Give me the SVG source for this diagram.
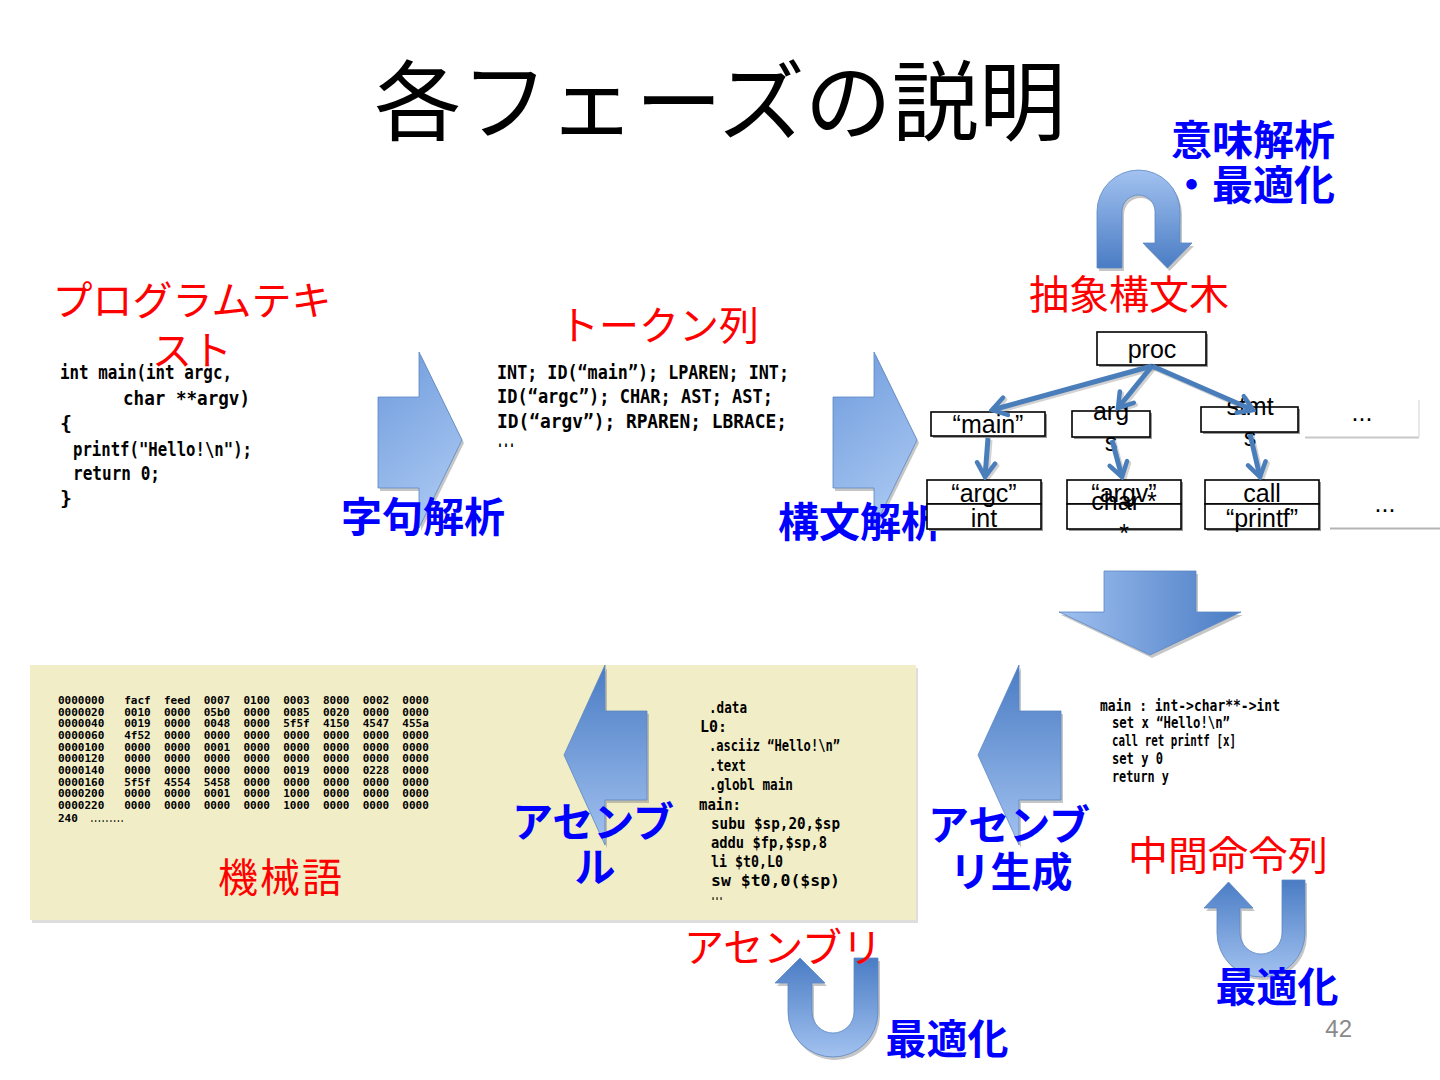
<svg xmlns="http://www.w3.org/2000/svg" width="1440" height="1080" viewBox="0 0 1440 1080">
<style>
.title{font-family:"Noto Sans CJK JP","Noto Sans",sans-serif;font-size:87px;fill:#000}
.red{font-family:"Noto Sans CJK JP","Noto Sans",sans-serif;font-size:40px;fill:#ff0000;text-anchor:middle}
.blue{font-family:"Noto Sans CJK JP","Noto Sans",sans-serif;font-size:41px;font-weight:bold;fill:#0000ff;text-anchor:middle}
.code{font-family:"DejaVu Sans Mono","Liberation Mono","Noto Sans CJK JP",monospace;font-weight:bold;fill:#000}
.c20{font-size:20px}
.c15{font-size:15px}
.c11{font-size:11px;white-space:pre}
.box{fill:#fff;stroke:#000;stroke-width:1.6}
.bsh{fill:#9a9a9a}
.node{font-family:"Liberation Sans",Arial,sans-serif;font-size:25px;fill:#000;text-anchor:middle}
.edge{fill:none;stroke:#4a7ebb;stroke-width:5;marker-end:url(#chev)}
.edgesh{fill:none;stroke:#7f7f7f;stroke-width:5;opacity:0.35;marker-end:url(#chevsh)}
.ash{fill:#808080;opacity:0.45}
</style>
<defs>
<linearGradient id="gDown" x1="0" y1="0" x2="0" y2="1">
<stop offset="0" stop-color="#4a7cc4"/>
<stop offset="1" stop-color="#a2c2f0"/>
</linearGradient>
<linearGradient id="gUp" x1="0" y1="0" x2="0" y2="1">
<stop offset="0" stop-color="#a2c2f0"/>
<stop offset="1" stop-color="#4a7cc4"/>
</linearGradient>
<linearGradient id="gH" x1="0" y1="0" x2="1" y2="0">
<stop offset="0" stop-color="#9fc0f0"/>
<stop offset="1" stop-color="#4a7cc4"/>
</linearGradient>
<linearGradient id="gR" x1="0" y1="0" x2="0.4" y2="1">
<stop offset="0" stop-color="#6e9bdc"/>
<stop offset="1" stop-color="#a6c5f1"/>
</linearGradient>
<marker id="chev" viewBox="0 0 20 24" refX="17" refY="12" markerWidth="20" markerHeight="24" markerUnits="userSpaceOnUse" orient="auto">
<path d="M3,3 L17,12 L3,21" fill="none" stroke="#4a7ebb" stroke-width="4.5" stroke-linecap="round"/>
</marker>
<marker id="chevsh" viewBox="0 0 20 24" refX="17" refY="12" markerWidth="20" markerHeight="24" markerUnits="userSpaceOnUse" orient="auto">
<path d="M3,3 L17,12 L3,21" fill="none" stroke="#7f7f7f" stroke-width="4.5" stroke-linecap="round"/>
</marker>
</defs>
<rect width="1440" height="1080" fill="#fff"/>

<g id="title">
<text class="title" x="720" y="134" text-anchor="middle">各フェーズの説明</text>
</g>

<g id="panel">
<rect x="32" y="668" width="886" height="255" fill="#c8c8c8" opacity="0.6"/>
<rect x="30" y="665" width="886" height="255" fill="#f1edc6"/>
</g>

<g id="arrow-lex">
<path class="ash" transform="translate(2,3)" d="M378,397 L419,397 L419,352 L462,440 L419,528 L419,488 L378,488 Z"/>
<path d="M378,397 L419,397 L419,352 L462,440 L419,528 L419,488 L378,488 Z" fill="url(#gR)" stroke="#5a86c4" stroke-width="0.8"/>
</g>
<g id="arrow-parse">
<path class="ash" transform="translate(2,3)" d="M833,397 L874,397 L874,352 L917,440 L874,528 L874,488 L833,488 Z"/>
<path d="M833,397 L874,397 L874,352 L917,440 L874,528 L874,488 L833,488 Z" fill="url(#gR)" stroke="#5a86c4" stroke-width="0.8"/>
</g>
<g id="arrow-down">
<path class="ash" transform="translate(2,3)" d="M1104,571 L1196,571 L1196,612 L1241,612 L1150,655 L1059,612 L1104,612 Z"/>
<path d="M1104,571 L1196,571 L1196,612 L1241,612 L1150,655 L1059,612 L1104,612 Z" fill="url(#gH)" stroke="#5a86c4" stroke-width="0.8"/>
</g>
<g id="arrow-asmgen">
<path class="ash" transform="translate(2,3)" d="M1061,711 L1019,711 L1019,665 L978,755 L1019,845 L1019,800 L1061,800 Z"/>
<path d="M1061,711 L1019,711 L1019,665 L978,755 L1019,845 L1019,800 L1061,800 Z" fill="url(#gDown)" stroke="#5a86c4" stroke-width="0.8"/>
</g>
<g id="arrow-asm">
<path class="ash" transform="translate(2,3)" d="M647,711 L605,711 L605,665 L564,755 L605,845 L605,800 L647,800 Z"/>
<path d="M647,711 L605,711 L605,665 L564,755 L605,845 L605,800 L647,800 Z" fill="url(#gDown)" stroke="#5a86c4" stroke-width="0.8"/>
</g>

<g id="uturn-semantic">
<path class="ash" transform="translate(2,3)" d="M1097,268 L1097,211.5 A41.5,41.5 0 0 1 1180,211.5 L1180,243 L1192,243 L1167.5,268 L1143,243 L1155,243 L1155,211.5 A16.5,16.5 0 0 0 1122,211.5 L1122,268 Z"/>
<path d="M1097,268 L1097,211.5 A41.5,41.5 0 0 1 1180,211.5 L1180,243 L1192,243 L1167.5,268 L1143,243 L1155,243 L1155,211.5 A16.5,16.5 0 0 0 1122,211.5 L1122,268 Z" fill="url(#gUp)" stroke="#5a86c4" stroke-width="0.8"/>
</g>
<g id="uturn-asm">
<path class="ash" transform="translate(2,3)" d="M878,958 L878,1012 A45,45 0 0 1 788,1012 L788,983 L775,983 L800,958 L825,983 L812,983 L812,1012 A21,21 0 0 0 854,1012 L854,958 Z"/>
<path d="M878,958 L878,1012 A45,45 0 0 1 788,1012 L788,983 L775,983 L800,958 L825,983 L812,983 L812,1012 A21,21 0 0 0 854,1012 L854,958 Z" fill="url(#gDown)" stroke="#5a86c4" stroke-width="0.8"/>
</g>
<g id="uturn-ir">
<path class="ash" transform="translate(2,3)" d="M1305,880 L1305,933 A44,44 0 0 1 1217,933 L1217,908 L1204,908 L1228.5,882 L1253,908 L1240,908 L1240,933 A21,21 0 0 0 1282,933 L1282,880 Z"/>
<path d="M1305,880 L1305,933 A44,44 0 0 1 1217,933 L1217,908 L1204,908 L1228.5,882 L1253,908 L1240,908 L1240,933 A21,21 0 0 0 1282,933 L1282,880 Z" fill="url(#gDown)" stroke="#5a86c4" stroke-width="0.8"/>
</g>

<g id="source">
<text class="red" x="192" y="315" font-size="41">プログラムテキ</text>
<text class="red" x="192" y="365" font-size="41">スト</text>
<text class="code c20" x="60" y="379" textLength="172" lengthAdjust="spacingAndGlyphs">int main(int argc,</text>
<text class="code c20" x="123" y="405" textLength="127" lengthAdjust="spacingAndGlyphs">char **argv)</text>
<text class="code c20" x="60" y="430">{</text>
<text class="code c20" x="73" y="456" textLength="179" lengthAdjust="spacingAndGlyphs">printf("Hello!\n");</text>
<text class="code c20" x="73" y="480" textLength="87" lengthAdjust="spacingAndGlyphs">return 0;</text>
<text class="code c20" x="60" y="505">}</text>
</g>

<g id="tokens">
<text class="red" x="659" y="340">トークン列</text>
<text class="code c20" x="497" y="379" textLength="292" lengthAdjust="spacingAndGlyphs">INT; ID(“main”); LPAREN; INT;</text>
<text class="code c20" x="497" y="403" textLength="276" lengthAdjust="spacingAndGlyphs">ID(“argc”); CHAR; AST; AST;</text>
<text class="code c20" x="497" y="428" textLength="290" lengthAdjust="spacingAndGlyphs">ID(“argv”); RPAREN; LBRACE;</text>
<text class="code c20" x="497" y="447" textLength="18" lengthAdjust="spacingAndGlyphs">...</text>
</g>

<g id="label-lex"><text class="blue" x="423" y="532">字句解析</text></g>
<g id="label-parse"><text class="blue" x="860" y="537">構文解析</text></g>
<g id="label-sem">
<text class="blue" x="1253" y="155">意味解析</text>
<text class="blue" x="1253" y="200">・最適化</text>
</g>

<g id="ast-title"><text class="red" x="1129" y="309">抽象構文木</text></g>

<g id="connectors">
<line class="edgesh" x1="1154" y1="368" x2="994" y2="412"/>
<line class="edgesh" x1="1154" y1="368" x2="1120" y2="410"/>
<line class="edgesh" x1="1154" y1="368" x2="1255" y2="412"/>
<line class="edgesh" x1="990" y1="440" x2="987" y2="479"/>
<line class="edgesh" x1="1114" y1="442" x2="1124" y2="479"/>
<line class="edgesh" x1="1252" y1="436" x2="1262" y2="479"/>
</g>

<g id="node-proc">
<rect class="bsh" x="1099" y="334" width="109" height="33"/>
<rect class="box" x="1097" y="332" width="109" height="33"/>
<text class="node" x="1152" y="358">proc</text>
</g>
<g id="node-main">
<rect class="bsh" x="933" y="414" width="114" height="24"/>
<rect class="box" x="931" y="412" width="114" height="24"/>
<text class="node" x="988" y="433">“main”</text>
</g>
<g id="node-args">
<rect class="bsh" x="1074" y="413" width="78" height="26"/>
<rect class="box" x="1072" y="411" width="78" height="26"/>
<text class="node" x="1111" y="420">arg</text>
<text class="node" x="1111" y="451">s</text>
</g>
<g id="node-stmts">
<rect class="bsh" x="1203" y="409" width="97" height="25"/>
<rect class="box" x="1201" y="407" width="97" height="25"/>
<text class="node" x="1250" y="415">stmt</text>
<text class="node" x="1250" y="446">s</text>
</g>
<g id="node-more1">
<rect x="1305" y="400" width="114" height="37" fill="#fff"/>
<line x1="1305" y1="437.5" x2="1419" y2="437.5" stroke="#c8c8c8" stroke-width="2"/>
<line x1="1419" y1="400" x2="1419" y2="437" stroke="#e0e0e0" stroke-width="1.5"/>
<text class="node" x="1362" y="421">...</text>
</g>
<g id="node-argc">
<rect class="bsh" x="929" y="482" width="114" height="49"/>
<rect class="box" x="927" y="480" width="114" height="24"/>
<rect class="box" x="927" y="504" width="114" height="25"/>
<text class="node" x="984" y="502">“argc”</text>
<text class="node" x="984" y="527">int</text>
</g>
<g id="node-argv">
<rect class="bsh" x="1069" y="482" width="114" height="49"/>
<rect class="box" x="1067" y="480" width="114" height="24"/>
<rect class="box" x="1067" y="504" width="114" height="25"/>
<text class="node" x="1124" y="502">“argv”</text>
<text class="node" x="1124" y="510">char *</text>
<text class="node" x="1124" y="542">*</text>
</g>
<g id="node-call">
<rect class="bsh" x="1207" y="482" width="114" height="49"/>
<rect class="box" x="1205" y="480" width="114" height="24"/>
<rect class="box" x="1205" y="504" width="114" height="25"/>
<text class="node" x="1262" y="502">call</text>
<text class="node" x="1262" y="527">“printf”</text>
</g>
<g id="node-more2">
<rect x="1330" y="484" width="110" height="44" fill="#fff"/>
<line x1="1330" y1="528.5" x2="1440" y2="528.5" stroke="#b4b4b4" stroke-width="2"/>
<text class="node" x="1385" y="512">...</text>
</g>

<g id="connectors-front">
<line class="edge" x1="1152" y1="366" x2="992" y2="410"/>
<line class="edge" x1="1152" y1="366" x2="1118" y2="408"/>
<line class="edge" x1="1152" y1="366" x2="1253" y2="410"/>
<line class="edge" x1="988" y1="438" x2="985" y2="477"/>
<line class="edge" x1="1112" y1="440" x2="1122" y2="477"/>
<line class="edge" x1="1250" y1="434" x2="1260" y2="477"/>
</g>

<g id="ir">
<text class="code c15" x="1100" y="711" textLength="180" lengthAdjust="spacingAndGlyphs">main : int-&gt;char**-&gt;int</text>
<text class="code c15" x="1112" y="728" textLength="118" lengthAdjust="spacingAndGlyphs">set x “Hello!\n”</text>
<text class="code c15" x="1112" y="746" textLength="124" lengthAdjust="spacingAndGlyphs">call ret printf [x]</text>
<text class="code c15" x="1112" y="764" textLength="51" lengthAdjust="spacingAndGlyphs">set y 0</text>
<text class="code c15" x="1112" y="782" textLength="57" lengthAdjust="spacingAndGlyphs">return y</text>
<text class="red" x="1228" y="870">中間命令列</text>
</g>
<g id="label-asmgen">
<text class="blue" x="1009" y="840">アセンブ</text>
<text class="blue" x="1011" y="887">リ生成</text>
</g>
<g id="label-opt-ir"><text class="blue" x="1277" y="1002">最適化</text></g>

<g id="asm">
<text class="code c15" x="709" y="713" textLength="38" lengthAdjust="spacingAndGlyphs">.data</text>
<text class="code c15" x="700" y="732" textLength="27" lengthAdjust="spacingAndGlyphs">L0:</text>
<text class="code c15" x="709" y="751" textLength="131" lengthAdjust="spacingAndGlyphs">.asciiz “Hello!\n”</text>
<text class="code c15" x="709" y="771" textLength="37" lengthAdjust="spacingAndGlyphs">.text</text>
<text class="code c15" x="709" y="790" textLength="84" lengthAdjust="spacingAndGlyphs">.globl main</text>
<text class="code c15" x="699" y="810" textLength="42" lengthAdjust="spacingAndGlyphs">main:</text>
<text class="code c15" x="711" y="829" textLength="129" lengthAdjust="spacingAndGlyphs">subu $sp,20,$sp</text>
<text class="code c15" x="711" y="848" textLength="116" lengthAdjust="spacingAndGlyphs">addu $fp,$sp,8</text>
<text class="code c15" x="711" y="867" textLength="72" lengthAdjust="spacingAndGlyphs">li  $t0,L0</text>
<text class="code c15" x="711" y="886" textLength="129" lengthAdjust="spacingAndGlyphs">sw   $t0,0($sp)</text>
<text class="code c15" x="711" y="900" textLength="12" lengthAdjust="spacingAndGlyphs">...</text>
<text class="red" x="783" y="962">アセンブリ</text>
</g>
<g id="label-asm">
<text class="blue" x="593" y="837">アセンブ</text>
<text class="blue" x="595" y="882">ル</text>
</g>
<g id="label-opt-asm"><text class="blue" x="947" y="1054">最適化</text></g>

<g id="machine">
<text class="code c11" x="58" y="704" xml:space="preserve">0000000   facf  feed  0007  0100  0003  8000  0002  0000</text>
<text class="code c11" x="58" y="715.7" xml:space="preserve">0000020   0010  0000  05b0  0000  0085  0020  0000  0000</text>
<text class="code c11" x="58" y="727.3" xml:space="preserve">0000040   0019  0000  0048  0000  5f5f  4150  4547  455a</text>
<text class="code c11" x="58" y="739" xml:space="preserve">0000060   4f52  0000  0000  0000  0000  0000  0000  0000</text>
<text class="code c11" x="58" y="750.7" xml:space="preserve">0000100   0000  0000  0001  0000  0000  0000  0000  0000</text>
<text class="code c11" x="58" y="762.3" xml:space="preserve">0000120   0000  0000  0000  0000  0000  0000  0000  0000</text>
<text class="code c11" x="58" y="774" xml:space="preserve">0000140   0000  0000  0000  0000  0019  0000  0228  0000</text>
<text class="code c11" x="58" y="785.7" xml:space="preserve">0000160   5f5f  4554  5458  0000  0000  0000  0000  0000</text>
<text class="code c11" x="58" y="797.3" xml:space="preserve">0000200   0000  0000  0001  0000  1000  0000  0000  0000</text>
<text class="code c11" x="58" y="809" xml:space="preserve">0000220   0000  0000  0000  0000  1000  0000  0000  0000</text>
<text class="code c11" x="58" y="822" font-family="Liberation Sans,sans-serif">240</text>
<text class="code c11" x="90" y="822" font-weight="normal" textLength="34" lengthAdjust="spacingAndGlyphs">.........</text>
</g>
<g id="label-machine"><text class="red" x="281" y="892" font-size="47" letter-spacing="2">機械語</text></g>

<g id="page"><text x="1352" y="1037" text-anchor="end" font-family="Liberation Sans,Arial,sans-serif" font-size="24" fill="#8a8a8a">42</text></g>
</svg>
